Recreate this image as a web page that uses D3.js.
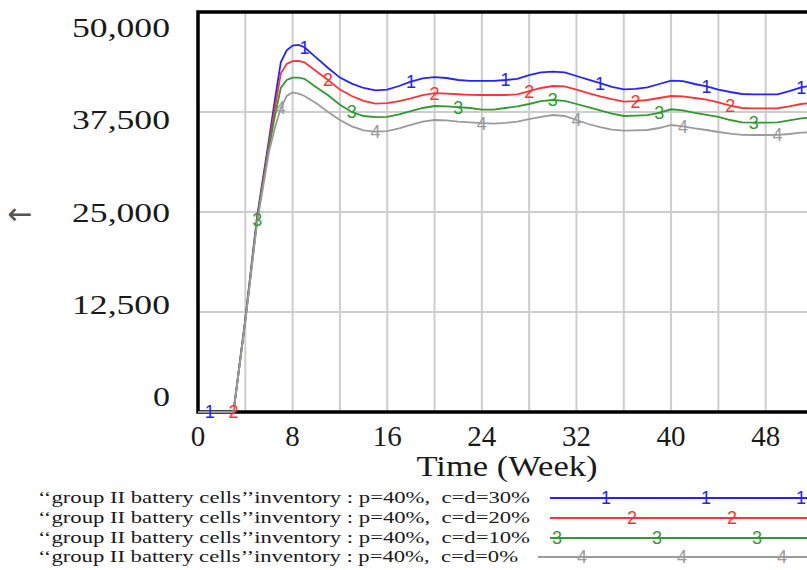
<!DOCTYPE html>
<html><head><meta charset="utf-8">
<script src="https://cdn.jsdelivr.net/npm/d3@7"></script>
<style>
html,body{margin:0;padding:0;background:#fff;}
svg{display:block;}
text{white-space:pre;}
</style></head>
<body>
<svg id="chart" width="807" height="570"></svg>
<script>
// ---------- data ----------
const weeks = [0,1,2,3,4,5,6,6.5,7,7.5,8,8.5,9,
  10,11,12,13,14,15,16,17,18,19,20,21,22,23,24,25,26,27,28,29,30,31,32,33,34,35,36,37,38,39,40,41,42,43,44,45,46,47,48,49,50,51,52];
const seriesNames = [
  "‘‘group II battery cells’’inventory : p=40%,  c=d=30%",
  "‘‘group II battery cells’’inventory : p=40%,  c=d=20%",
  "‘‘group II battery cells’’inventory : p=40%,  c=d=10%",
  "‘‘group II battery cells’’inventory : p=40%,  c=d=0%"
];
const seriesLabels = ["1","2","3","4"];
const seriesColors = ["#2323ff","#ff3333","#2f9a2f","#9b9b9b"];
const valuesCd30 = [0,0,0,0,11600,24500,34000,39000,43700,45200,45800,45900,45600,
  44300,43000,41800,41050,40500,40200,40300,40750,41300,41700,41850,41750,41500,41400,41400,41400,41500,41650,42100,42450,42550,42450,42000,41550,41100,40650,40340,40400,40590,41000,41410,41350,41000,40700,40300,40000,39750,39700,39700,39710,40100,40590,40800];
const valuesCd20 = [0,0,0,0,11500,24200,33500,38000,42300,43500,43850,43900,43700,
  42600,41500,40300,39500,38900,38550,38600,38850,39200,39600,39850,39800,39720,39650,39625,39625,39625,39700,40100,40500,40750,40700,40300,39850,39450,39100,38790,38850,39000,39250,39500,39450,39250,39050,38700,38300,38000,37960,37960,37970,38200,38500,38650];
const valuesCd10 = [0,0,0,0,11400,24000,33000,37000,40500,41500,41800,41800,41650,
  40600,39600,38400,37500,37000,36850,36900,37200,37600,38000,38250,38200,38100,38000,37800,37800,38000,38200,38500,38850,39000,38900,38500,38100,37700,37300,37000,37050,37100,37400,37840,37700,37400,37150,36900,36500,36200,36160,36160,36200,36450,36710,36800];
const valuesCd0 = [0,0,0,0,11300,23700,32500,35500,38000,39500,39950,39800,39500,
  38600,37500,36500,35700,35200,35050,35100,35450,35900,36300,36500,36450,36300,36200,36100,36050,36150,36300,36600,36900,37125,37000,36500,36000,35600,35300,35160,35200,35250,35500,35875,35700,35450,35250,35000,34800,34650,34625,34625,34650,34750,34910,35000];
const markerWeeks = [
  [1,9,18,26,34,43,51],
  [3,11,20,28,37,45],
  [5,13,22,30,39,47],
  [7,15,24,32,41,49]
];
const xTicks = [0,8,16,24,32,40,48];
const xGrid = [0,4,8,12,16,20,24,28,32,36,40,44,48,52];
const yTicks = [0,12500,25000,37500,50000];
const yTickLabels = ["0","12,500","25,000","37,500","50,000"];
const allValues = [valuesCd30, valuesCd20, valuesCd10, valuesCd0];

// ---------- layout ----------
const svg = d3.select("#chart");
const x = d3.scaleLinear().domain([0,52]).range([198,813]);
const y = d3.scaleLinear().domain([0,50000]).range([412,12]);
const yLab = d3.scaleLinear().domain([0,50000]).range([406,37]);
const serif = "'Liberation Serif','Times New Roman',serif";
const sans = "'Liberation Sans',Arial,sans-serif";

// grid
const grid = svg.append("g");
grid.selectAll("line.v").data(xGrid).join("line")
  .attr("x1",d=>x(d)).attr("x2",d=>x(d)).attr("y1",y(50000)).attr("y2",y(0))
  .attr("stroke","#cdcdcd").attr("stroke-width",2);
grid.selectAll("line.h").data(yTicks).join("line")
  .attr("x1",x(0)).attr("x2",813).attr("y1",d=>y(d)).attr("y2",d=>y(d))
  .attr("stroke","#cdcdcd").attr("stroke-width",2);

// border
svg.append("path")
  .attr("d",`M813,${y(50000)}H${x(0)}V${y(0)}H813`)
  .attr("fill","none").attr("stroke","#000").attr("stroke-width",3.5);

// y labels
svg.append("g").selectAll("text").data(yTicks).join("text")
  .attr("x",170).attr("y",d=>yLab(d))
  .attr("text-anchor","end")
  .attr("font-family",serif).attr("font-size",27).attr("fill","#1a1a1a")
  .attr("textLength",(d,i)=>yTickLabels[i].length===1?17:98)
  .attr("lengthAdjust","spacingAndGlyphs")
  .text((d,i)=>yTickLabels[i]);

// y axis label arrow
svg.append("text").attr("x",20).attr("y",213).attr("dy","0.35em").attr("text-anchor","middle")
  .attr("font-family","'DejaVu Sans',sans-serif").attr("font-size",30).attr("fill","#555").text("←");

// x labels
svg.append("g").selectAll("text").data(xTicks).join("text")
  .attr("x",d=>x(d)).attr("y",446).attr("text-anchor","middle")
  .attr("font-family",serif).attr("font-size",29).attr("fill","#1a1a1a")
  .text(d=>d);
svg.append("text").attr("x",507).attr("y",476).attr("text-anchor","middle")
  .attr("font-family",serif).attr("font-size",29).attr("fill","#1a1a1a")
  .attr("textLength",181).attr("lengthAdjust","spacingAndGlyphs")
  .text("Time (Week)");

// lines
const line = d3.line().x((d,i)=>x(weeks[i])).y(d=>y(d));
const plot = svg.append("g");
allValues.forEach((vals,si)=>{
  plot.append("path").datum(vals).attr("d",line)
    .attr("fill","none").attr("stroke",seriesColors[si]).attr("stroke-width",1.8);
});
allValues.forEach((vals,si)=>{
  plot.selectAll(null).data(markerWeeks[si]).join("text")
    .attr("x",d=>x(d)).attr("y",d=>y(vals[weeks.indexOf(d)]))
    .attr("dy","0.36em").attr("text-anchor","middle")
    .attr("font-family",sans).attr("font-size",18).attr("fill",seriesColors[si])
    .text(seriesLabels[si]);
});

// legend
const legendY = [498,518,538,557];
const legendTextLen = [492,492,492,480];
const legendLineStart = [550,550,550,538];
const legendFirstMarker = [606,632,557,582];
const lg = svg.append("g");
seriesNames.forEach((name,i)=>{
  lg.append("text").attr("x",38).attr("y",legendY[i]+5)
    .attr("font-family",serif).attr("font-size",16).attr("fill","#1a1a1a")
    .attr("textLength",legendTextLen[i]).attr("lengthAdjust","spacingAndGlyphs")
    .text(name);
  lg.append("line").attr("x1",legendLineStart[i]).attr("x2",807)
    .attr("y1",legendY[i]).attr("y2",legendY[i])
    .attr("stroke",seriesColors[i]).attr("stroke-width",1.8);
  lg.selectAll(null).data(d3.range(legendFirstMarker[i],807,100)).join("text")
    .attr("x",d=>Math.min(d,801)).attr("y",legendY[i]).attr("dy","0.36em").attr("text-anchor","middle")
    .attr("font-family",sans).attr("font-size",18).attr("fill",seriesColors[i])
    .text(seriesLabels[i]);
});
</script>
</body></html>
